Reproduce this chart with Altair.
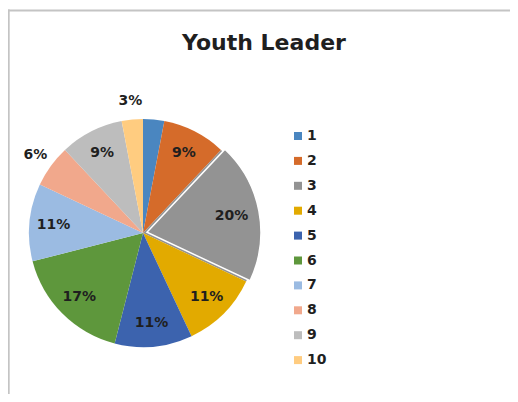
import math
import altair as alt
import pandas as pd

# ---- data ----
categories = ["1", "2", "3", "4", "5", "6", "7", "8", "9", "10"]
percents = [3, 9, 20, 11, 11, 17, 11, 6, 9, 3]
colors = ["#4a86c0", "#d56b2a", "#939393", "#e2aa00", "#3c63ae",
          "#5e973c", "#9bbbe2", "#f1a88c", "#bdbdbd", "#ffcc80"]
inside_labels = ["2", "3", "4", "5", "6", "7", "9"]
outside_labels = ["8", "10"]
exploded = "3"
title_text = "Youth Leader"

df = pd.DataFrame({
    "cat": categories,
    "value": percents,
    "idx": list(range(1, len(categories) + 1)),
    "label": [f"{v}%" for v in percents],
})

# ---- layout ----
W, H = 502, 386
CX, CY, R = 135, 225, 114
FONT = "DejaVu Sans"
TXT = "#1f1f1f"

# explosion offset of slice 3 along its bisector
i = categories.index(exploded)
total = sum(percents)
mid = (sum(percents[:i]) + percents[i] / 2) / total * 2 * math.pi
EX = 4
dx, dy = EX * math.sin(mid), -EX * math.cos(mid)

theta = alt.Theta("value:Q", stack=True)
order = alt.Order("idx:Q", sort="ascending")
color = alt.Color(
    "cat:N",
    scale=alt.Scale(domain=categories, range=colors),
    sort=categories,
    title=None,
    legend=alt.Legend(
        orient="none", legendX=283, legendY=121, symbolType="square",
        symbolSize=64, symbolStrokeWidth=0, labelFont=FONT, labelFontSize=14,
        labelFontWeight="bold", labelColor=TXT, rowPadding=10.9,
        labelOffset=2, padding=0,
    ),
)

base = alt.Chart(df)

pie = base.mark_arc(radius=R).encode(
    theta=theta, order=order, color=color,
    x=alt.value(CX), y=alt.value(CY),
)

pie_exp = base.mark_arc(radius=R, stroke="white", strokeWidth=1.5).encode(
    theta=theta, order=order, color=color,
    x=alt.value(CX + dx), y=alt.value(CY + dy),
    opacity=alt.condition(alt.FieldEqualPredicate(field="cat", equal=exploded),
                          alt.value(1), alt.value(0)),
)

lab_in = base.mark_text(radius=90, font=FONT, fontSize=14, fontWeight="bold",
                        color=TXT).encode(
    theta=theta, order=order, text="label:N",
    x=alt.value(CX), y=alt.value(CY),
    opacity=alt.condition(alt.FieldOneOfPredicate(field="cat", oneOf=inside_labels),
                          alt.value(1), alt.value(0)),
)

lab_out = base.mark_text(radius=133, font=FONT, fontSize=14, fontWeight="bold",
                         color=TXT).encode(
    theta=theta, order=order, text="label:N",
    x=alt.value(CX), y=alt.value(CY),
    opacity=alt.condition(alt.FieldOneOfPredicate(field="cat", oneOf=outside_labels),
                          alt.value(1), alt.value(0)),
)

title = alt.Chart(pd.DataFrame({"t": [title_text]})).mark_text(
    font=FONT, fontSize=22, fontWeight="bold", color=TXT, baseline="alphabetic"
).encode(text="t:N", x=alt.value(256), y=alt.value(42))

frame_top = alt.Chart(pd.DataFrame({"a": [0]})).mark_rule(
    color="#c4c4c4", strokeWidth=2
).encode(x=alt.value(0), x2=alt.value(W), y=alt.value(2.5))

frame_left = alt.Chart(pd.DataFrame({"a": [0]})).mark_rule(
    color="#c4c4c4", strokeWidth=2
).encode(x=alt.value(0.7), y=alt.value(1.5), y2=alt.value(H))

chart = alt.layer(
    frame_top, frame_left, pie, pie_exp, lab_in, lab_out, title
).properties(
    width=W, height=H, padding=0, background="white",
    autosize=alt.AutoSizeParams(type="none"),
).configure_view(stroke=None)

chart.save("out.html", embed_options={"renderer": "svg", "actions": False})
